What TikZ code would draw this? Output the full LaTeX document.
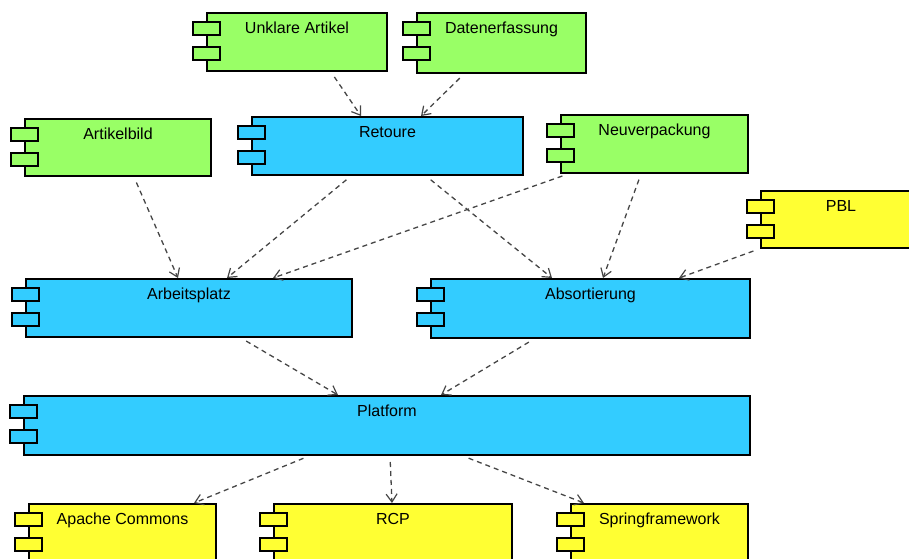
\documentclass[tikz,border=0pt]{standalone}
\usepackage{fontspec}
\setmainfont{Liberation Sans}
\usetikzlibrary{arrows.meta}

\definecolor{compgreen}{RGB}{153,255,102}
\definecolor{compblue}{RGB}{51,204,255}
\definecolor{compyellow}{RGB}{255,255,51}
\definecolor{depgray}{RGB}{70,70,70}

\tikzset{
	comp/.style={rectangle, draw, line width=2pt, anchor=north west, inner sep=0pt},
	tabbox/.style={draw, line width=2pt},
	dep/.style={depgray, line width=1.3pt, dash pattern=on 5pt off 4pt, shorten <=6pt,
		-{Straight Barb[length=8pt,width=11pt,line width=1.2pt]}}
}

\begin{document}
\begin{tikzpicture}[x=1pt, y=1pt, font=\fontsize{16}{18}\selectfont]
	\useasboundingbox (0,0) rectangle (909,-558);
	\clip (0,0) rectangle (909,-558);

	% components: name/x/y/width/height/colour/text
	\foreach \n/\x/\y/\w/\h/\c/\t in {
		ua/206/12/180/58/compgreen/Unklare Artikel,
		de/416/12/169/60/compgreen/Datenerfassung,
		ret/251/116/271/58/compblue/Retoure,
		ab/24/118/186/57/compgreen/Artikelbild,
		nv/560/114/187/58/compgreen/Neuverpackung,
		pbl/760/190/160/57/compyellow/PBL,
		ap/25/278/326/58/compblue/Arbeitsplatz,
		abs/430/278/319/59/compblue/Absortierung,
		pf/23/395/726/59/compblue/Platform,
		apc/28/503/187/70/compyellow/Apache Commons,
		rcp/273/503/238/70/compyellow/RCP,
		spr/570/503/177/70/compyellow/Springframework} {
		\node (\n) [comp, fill=\c, minimum width=\w pt, minimum height=\h pt] at (\x,-\y) {};
		\node (\n-t) [anchor=base] at ([yshift=-21pt]\n.north) {\t};
		\draw [tabbox, fill=\c] ([xshift=-13pt, yshift=-10pt]\n.north west) rectangle ++(27,-13);
		\draw [tabbox, fill=\c] ([xshift=-13pt, yshift=-35pt]\n.north west) rectangle ++(27,-13);
	}

	% dependencies: from/shift/to/shift
	\foreach \a/\sa/\b/\sb in {
		ua/34/ret/-26.5, de/-37.5/ret/33.5,
		ab/16/ap/-11, ret/-36.5/ap/38, nv/-86.5/ap/84,
		ret/38.5/abs/-38.5, nv/-13.5/abs/12.5, pbl/-82/abs/88.5,
		ap/52/pf/-49, abs/-56.5/pf/54,
		pf/-78/apc/71.5, pf/3/rcp/-1, pf/76/spr/-75.5} {
		\draw [dep] ([xshift=\sa pt]\a.south) -- ([xshift=\sb pt]\b.north);
	}
\end{tikzpicture}
\end{document}
